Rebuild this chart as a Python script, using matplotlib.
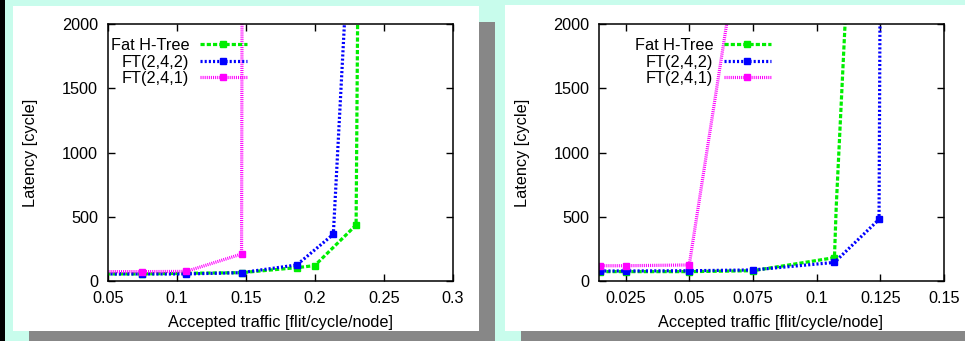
import matplotlib
matplotlib.use("Agg")
import matplotlib.pyplot as plt
from matplotlib.patches import Rectangle

plt.rcParams['font.family'] = ['Liberation Sans', 'DejaVu Sans']
plt.rcParams['lines.scale_dashes'] = False

# ---------------- data ----------------
series_names = ["Fat H-Tree", "FT(2,4,2)", "FT(2,4,1)"]

# left chart
left_fat_x = [0.04, 0.075, 0.107, 0.147, 0.187, 0.2, 0.23, 0.2315]
left_fat_y = [55, 55, 60, 65, 104, 120, 436, 2600]
left_ft242_x = [0.04, 0.075, 0.107, 0.147, 0.187, 0.2135, 0.222]
left_ft242_y = [55, 55, 55, 65, 125, 364, 2100]
left_ft241_x = [0.04, 0.075, 0.107, 0.147, 0.1475]
left_ft241_y = [73, 73, 75, 210, 3000]
left_xticks = [0.05, 0.1, 0.15, 0.2, 0.25, 0.3]
left_xticklabels = ["0.05", "0.1", "0.15", "0.2", "0.25", "0.3"]

# right chart
right_fat_x = [0.015, 0.025, 0.05, 0.075, 0.107, 0.1077, 0.1114]
right_fat_y = [73, 73, 73, 80, 182, 580, 2100]
right_fat_marked = [0, 1, 2, 3, 4]
right_ft242_x = [0.015, 0.025, 0.05, 0.075, 0.107, 0.1245, 0.125]
right_ft242_y = [78, 78, 80, 86, 145, 480, 2600]
right_ft241_x = [0.015, 0.025, 0.05, 0.066]
right_ft241_y = [119, 119, 125, 2170]
right_xticks = [0.025, 0.05, 0.075, 0.1, 0.125, 0.15]
right_xticklabels = ["0.025", "0.05", "0.075", "0.1", "0.125", "0.15"]

yticks = [0, 500, 1000, 1500, 2000]
xlabel = "Accepted traffic [flit/cycle/node]"
ylabel = "Latency [cycle]"

# ---------------- style ----------------
W, H = 965, 341
FS = 11.7
colors = ["#00ee00", "#0000ff", "#ff00ff"]
dashes = [(3.0, 1.5), (1.5, 1.5), (0.75, 0.75)]
LW = 2.3
MS = 5

fig = plt.figure(figsize=(W / 100, H / 100), dpi=100)
fig.patch.set_facecolor("#c8fcec")


def prect(x0, y0, x1, y1, color):
    r = Rectangle((x0 / W, 1 - y1 / H), (x1 - x0) / W, (y1 - y0) / H,
                  transform=fig.transFigure, facecolor=color,
                  edgecolor="none", zorder=-10)
    fig.add_artist(r)


prect(0, 0, 5, H, "#000000")
# shadows
prect(479, 22, 495, H, "#878787")
prect(29, 331, 495, H, "#878787")
prect(521, 331, W, H, "#878787")
# panels
prect(13, 6, 479, 331, "#ffffff")
prect(505, 5, W, 331, "#ffffff")


def make_axes(x0, x1, y0, y1):
    return fig.add_axes([x0 / W, 1 - y1 / H, (x1 - x0) / W, (y1 - y0) / H])


def style(ax, xlim, xticks, xticklabels, leg_x):
    ax.set_facecolor("none")
    ax.set_xlim(*xlim)
    ax.set_ylim(0, 2000)
    ax.set_xticks(xticks)
    ax.set_xticklabels(xticklabels)
    ax.set_yticks(yticks)
    ax.tick_params(direction="in", top=True, right=True, length=5,
                   width=1, labelsize=FS, pad=7, colors="black")
    for s in ax.spines.values():
        s.set_linewidth(1.1)
    leg = ax.legend(loc="upper right", bbox_to_anchor=(leg_x, 0.947),
                    markerfirst=False, frameon=False, fontsize=FS,
                    handlelength=2.9, handletextpad=0.65,
                    labelspacing=0.1, borderpad=0, borderaxespad=0,
                    numpoints=1)
    return leg


def plot_series(ax, xs_list, ys_list, marks_list):
    for xs, ys, mk, c, d, name in zip(xs_list, ys_list, marks_list, colors,
                                      dashes, series_names):
        ax.plot(xs, ys, color=c, lw=LW, dashes=d, marker="s", ms=MS,
                markeredgecolor=c, markerfacecolor=c, label=name,
                dash_capstyle="butt", markevery=mk)


axL = make_axes(107.7, 452.7, 24.3, 281)
plot_series(axL, [left_fat_x, left_ft242_x, left_ft241_x],
            [left_fat_y, left_ft242_y, left_ft241_y], [None, None, None])
style(axL, (0.05, 0.3), left_xticks, left_xticklabels, (247 - 107.7) / 345)

axR = make_axes(599.3, 944, 24.3, 281)
plot_series(axR, [right_fat_x, right_ft242_x, right_ft241_x],
            [right_fat_y, right_ft242_y, right_ft241_y],
            [right_fat_marked, None, None])
style(axR, (0.0147, 0.15), right_xticks, right_xticklabels, (771 - 599.3) / 344.7)

# axis labels
fig.text(280 / W, 1 - 323 / H, xlabel, ha="center", va="center", fontsize=FS)
fig.text(31 / W, 1 - 153 / H, ylabel, ha="center", va="center", fontsize=FS,
         rotation=90)
fig.text(771 / W, 1 - 323 / H, xlabel, ha="center", va="center", fontsize=FS)
fig.text(523 / W, 1 - 153 / H, ylabel, ha="center", va="center", fontsize=FS,
         rotation=90)

fig.savefig("out.png", dpi=100, facecolor=fig.get_facecolor())
